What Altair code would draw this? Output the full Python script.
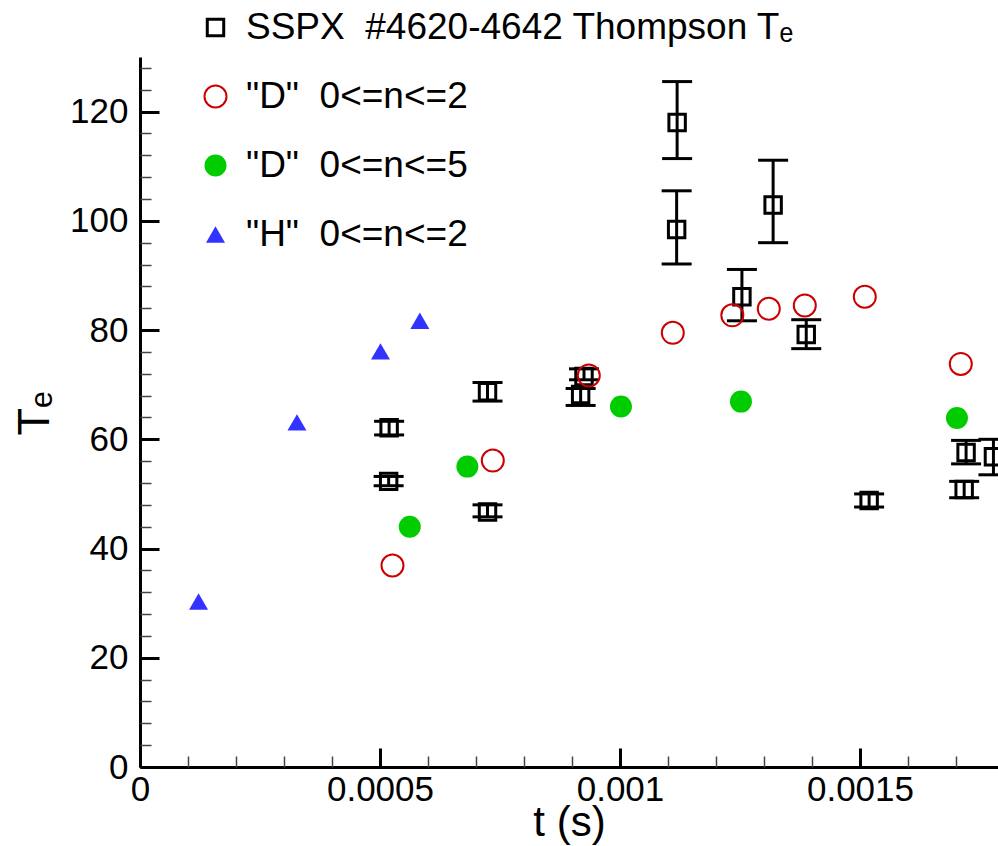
import altair as alt
import pandas as pd

FONT = "Liberation Sans"

SERIES = [
    "SSPX\u00a0\u00a0#4620-4642 Thompson T\u2091",
    "\"D\"\u00a0\u00a00<=n<=2",
    "\"D\"\u00a0\u00a00<=n<=5",
    "\"H\"\u00a0\u00a00<=n<=2",
]

# SSPX Thompson Te with error bars
sspx_t = [0.000519, 0.000518, 0.000724, 0.000724, 0.000925, 0.000918, 0.001119,
          0.001118, 0.001319, 0.001254, 0.001388, 0.001519, 0.001721, 0.001717, 0.001778]
sspx_te = [62.1, 52.3, 68.7, 46.7, 71.5, 68.2, 118.0, 98.4, 102.9, 86.1, 79.2, 48.8, 57.6, 50.8, 56.8]
sspx_lo = [60.8, 51.5, 67.0, 45.8, 70.9, 66.2, 111.4, 92.1, 96.0, 81.7, 76.6, 47.6, 55.5, 49.3, 53.5]
sspx_hi = [63.3, 53.2, 70.4, 48.0, 72.9, 69.3, 125.5, 105.5, 111.1, 91.1, 81.9, 50.0, 59.8, 52.3, 60.0]

# "D" 0<=n<=2
d2_t = [0.000526, 0.000735, 0.000935, 0.00111, 0.001234, 0.00131, 0.001385, 0.00151, 0.00171]
d2_te = [36.9, 56.1, 71.7, 79.5, 82.7, 83.9, 84.5, 86.1, 73.8]

# "D" 0<=n<=5
d5_t = [0.000562, 0.000682, 0.001002, 0.001252, 0.001702]
d5_te = [44.0, 55.0, 66.0, 66.9, 63.9]

# "H" 0<=n<=2
h2_t = [0.000122, 0.000327, 0.000501, 0.000583]
h2_te = [30.3, 63.1, 76.1, 81.7]

X_DOMAIN = [0, 0.0017875]
Y_DOMAIN = [0, 130]
X_MAJOR = [0, 0.0005, 0.001, 0.0015]
X_MINOR = [0.0001, 0.0002, 0.0003, 0.0004, 0.0006, 0.0007, 0.0008, 0.0009,
           0.0011, 0.0012, 0.0013, 0.0014, 0.0016, 0.0017]
Y_MAJOR = [0, 20, 40, 60, 80, 100, 120]
Y_MINOR = [4, 8, 12, 16, 24, 28, 32, 36, 44, 48, 52, 56, 64, 68, 72, 76,
           84, 88, 92, 96, 104, 108, 112, 116, 124, 128]

W, H = 858, 710

err_df = pd.DataFrame({"t": sspx_t, "te": sspx_te, "lo": sspx_lo, "hi": sspx_hi})

rows = []
for t, v in zip(sspx_t, sspx_te):
    rows.append({"series": SERIES[0], "t": t, "te": v})
for t, v in zip(d2_t, d2_te):
    rows.append({"series": SERIES[1], "t": t, "te": v})
for t, v in zip(d5_t, d5_te):
    rows.append({"series": SERIES[2], "t": t, "te": v})
for t, v in zip(h2_t, h2_te):
    rows.append({"series": SERIES[3], "t": t, "te": v})
pts_df = pd.DataFrame(rows)

xs = alt.Scale(domain=X_DOMAIN, nice=False, zero=False)
ys = alt.Scale(domain=Y_DOMAIN, nice=False, zero=False)

x_lab_axis = alt.Axis(orient="bottom", values=X_MAJOR, format="~g", ticks=False, grid=False,
                      domain=True, domainColor="black", domainWidth=3,
                      labelFont=FONT, labelFontSize=35, labelColor="black", labelPadding=5,
                      labelFlush=False, labelOverlap=False,
                      title="t (s)", titleFont=FONT, titleFontSize=42, titleFontWeight="normal",
                      titleColor="black", titleBaseline="alphabetic", titleY=68)
y_lab_axis = alt.Axis(orient="left", values=Y_MAJOR, ticks=False, grid=False,
                      domain=True, domainColor="black", domainWidth=3,
                      labelFont=FONT, labelFontSize=35, labelColor="black", labelPadding=12,
                      labelFlush=False, labelOverlap=False,
                      title="T\u2091", titleFont=FONT, titleFontSize=45, titleFontWeight="normal",
                      titleColor="black", titleBaseline="alphabetic", titleX=-92, titleY=356)
x_maj_axis = alt.Axis(orient="top", offset=-H, values=X_MAJOR, labels=False, domain=False,
                      grid=False, tickSize=19, tickWidth=3, tickColor="black", title=None)
y_maj_axis = alt.Axis(orient="right", offset=-W, values=Y_MAJOR, labels=False, domain=False,
                      grid=False, tickSize=19, tickWidth=3, tickColor="black", title=None)
x_min_axis = alt.Axis(orient="top", offset=-H, values=X_MINOR, labels=False, domain=False,
                      grid=False, tickSize=11, tickWidth=1.5, tickColor="#444444", title=None)
y_min_axis = alt.Axis(orient="right", offset=-W, values=Y_MINOR, labels=False, domain=False,
                      grid=False, tickSize=11, tickWidth=1.5, tickColor="#444444", title=None)

err = alt.Chart(err_df).mark_rule(color="black", strokeWidth=3).encode(
    x=alt.X("t:Q", scale=xs, axis=x_lab_axis),
    y=alt.Y("lo:Q", scale=ys, axis=y_lab_axis),
    y2="hi:Q",
)
cap_lo = alt.Chart(err_df).mark_rule(color="black", strokeWidth=3, xOffset=-15, x2Offset=15).encode(
    x=alt.X("t:Q", scale=xs, axis=x_maj_axis),
    x2="t:Q",
    y=alt.Y("lo:Q", scale=ys, axis=y_maj_axis),
)
cap_hi = alt.Chart(err_df).mark_rule(color="black", strokeWidth=3, xOffset=-15, x2Offset=15).encode(
    x=alt.X("t:Q", scale=xs, axis=x_min_axis),
    x2="t:Q",
    y=alt.Y("hi:Q", scale=ys, axis=y_min_axis),
)

LEG = alt.Legend(title=None, orient="none", legendX=57, legendY=-48, padding=0,
                 labelFont=FONT, labelFontSize=37, labelColor="black", labelLimit=2000,
                 labelOffset=12, rowPadding=31)

pts = alt.Chart(pts_df).mark_point(filled=False, opacity=1).encode(
    x=alt.X("t:Q", scale=xs, axis=None),
    y=alt.Y("te:Q", scale=ys, axis=None),
    shape=alt.Shape("series:N", sort=SERIES,
                    scale=alt.Scale(domain=SERIES, range=["square", "circle", "circle", "triangle-up"]),
                    legend=LEG),
    stroke=alt.Stroke("series:N", sort=SERIES,
                      scale=alt.Scale(domain=SERIES, range=["black", "#cc0000", "#00cc00", "#3333ff"]),
                      legend=LEG),
    fill=alt.Fill("series:N", sort=SERIES,
                  scale=alt.Scale(domain=SERIES, range=["transparent", "transparent", "#00cc00", "#3333ff"]),
                  legend=LEG),
    size=alt.Size("series:N", sort=SERIES,
                  scale=alt.Scale(type="ordinal", domain=SERIES, range=[270, 484, 484, 361]),
                  legend=LEG),
    strokeWidth=alt.StrokeWidth("series:N", sort=SERIES,
                                scale=alt.Scale(type="ordinal", domain=SERIES, range=[3, 2, 0, 0]),
                                legend=LEG),
)

chart = alt.layer(err, cap_lo, cap_hi, pts).resolve_axis(
    x="independent", y="independent"
).properties(
    width=W, height=H,
    padding={"left": 140, "top": 57, "right": 0, "bottom": 79},
    autosize=alt.AutoSizeParams(type="none"),
    background="white",
).configure_view(stroke=None)

chart.save("out.html", embed_options={"renderer": "svg", "actions": False})
